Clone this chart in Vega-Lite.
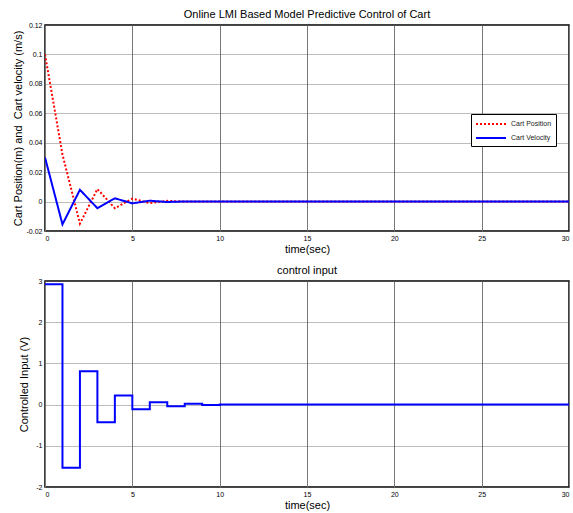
{
  "$schema": "https://vega.github.io/schema/vega-lite/v6.json",
  "background": "white",
  "padding": {"left": 11, "top": 8, "right": 0, "bottom": 0},
  "config": {
    "font": "Liberation Sans",
    "view": {"stroke": "black", "strokeWidth": 1.5},
    "axis": {
      "grid": true,
      "gridColor": "#555",
      "gridDash": [1, 1],
      "gridWidth": 0.8,
      "domain": false,
      "ticks": false,
      "labelFontSize": 7,
      "labelColor": "black",
      "labelPadding": 3,
      "titleFontSize": 11,
      "titleFontWeight": "normal",
      "titleColor": "black",
      "titlePadding": 2
    },
    "axisX": {"gridDash": [], "gridColor": "#777", "gridWidth": 1},
    "title": {"fontSize": 11, "fontWeight": "normal", "offset": 1, "color": "black"},
    "concat": {"spacing": 9}
  },
  "datasets": {
    "cart": [
      {"t": 0, "v": 0.1, "series": "Cart Position"},
      {"t": 1, "v": 0.032, "series": "Cart Position"},
      {"t": 2, "v": -0.015, "series": "Cart Position"},
      {"t": 3, "v": 0.0085, "series": "Cart Position"},
      {"t": 4, "v": -0.0045, "series": "Cart Position"},
      {"t": 5, "v": 0.002, "series": "Cart Position"},
      {"t": 6, "v": -0.001, "series": "Cart Position"},
      {"t": 7, "v": 0.0005, "series": "Cart Position"},
      {"t": 8, "v": 0, "series": "Cart Position"},
      {"t": 30, "v": 0, "series": "Cart Position"},
      {"t": 0, "v": 0.03, "series": "Cart Velocity"},
      {"t": 1, "v": -0.0155, "series": "Cart Velocity"},
      {"t": 2, "v": 0.008, "series": "Cart Velocity"},
      {"t": 3, "v": -0.0045, "series": "Cart Velocity"},
      {"t": 4, "v": 0.0022, "series": "Cart Velocity"},
      {"t": 5, "v": -0.0012, "series": "Cart Velocity"},
      {"t": 6, "v": 0.0006, "series": "Cart Velocity"},
      {"t": 7, "v": -0.0003, "series": "Cart Velocity"},
      {"t": 8, "v": 0.0001, "series": "Cart Velocity"},
      {"t": 9, "v": 0, "series": "Cart Velocity"},
      {"t": 30, "v": 0, "series": "Cart Velocity"}
    ],
    "u": [
      {"t": 0, "u": 2.92},
      {"t": 1, "u": -1.53},
      {"t": 2, "u": 0.81},
      {"t": 3, "u": -0.43},
      {"t": 4, "u": 0.22},
      {"t": 5, "u": -0.11},
      {"t": 6, "u": 0.06},
      {"t": 7, "u": -0.04},
      {"t": 8, "u": 0.02},
      {"t": 9, "u": -0.01},
      {"t": 10, "u": 0},
      {"t": 30, "u": 0}
    ]
  },
  "vconcat": [
    {
      "title": "Online LMI Based Model Predictive Control of Cart",
      "width": 524,
      "height": 206,
      "data": {"name": "cart"},
      "mark": {"type": "line", "strokeWidth": 2, "clip": true},
      "encoding": {
        "x": {"field": "t", "type": "quantitative", "title": "time(sec)",
              "scale": {"domain": [0, 30], "nice": false},
              "axis": {"values": [0, 5, 10, 15, 20, 25, 30]}},
        "y": {"field": "v", "type": "quantitative",
              "title": "Cart Position(m) and\u00a0 Cart velocity (m/s)",
              "scale": {"domain": [-0.02, 0.12], "nice": false, "zero": false},
              "axis": {"values": [-0.02, 0, 0.02, 0.04, 0.06, 0.08, 0.1, 0.12], "labelExpr": "'' + datum.value", "titlePadding": 3}},
        "color": {"field": "series", "type": "nominal",
                  "scale": {"domain": ["Cart Position", "Cart Velocity"], "range": ["red", "blue"]},
                  "legend": {"title": null, "orient": "none", "legendX": 426, "legendY": 89,
                             "strokeColor": "black", "fillColor": "white", "padding": 4,
                             "labelFontSize": 7, "labelColor": "#222", "symbolType": "M-3,0H3", "symbolStrokeWidth": 2, "symbolSize": 100,
                             "symbolOffset": 10, "labelOffset": 14, "rowPadding": 4,
                             "labelExpr": "datum.label + '\u00a0\u00a0\u00a0\u00a0\u00a0\u00a0\u00a0\u00a0\u00a0'"}},
        "strokeDash": {"field": "series", "type": "nominal",
                       "scale": {"domain": ["Cart Position", "Cart Velocity"], "range": [[2, 2], [1, 0]]},
                       "legend": {"title": null, "orient": "none", "legendX": 426, "legendY": 89,
                             "strokeColor": "black", "fillColor": "white", "padding": 4,
                             "labelFontSize": 7, "labelColor": "#222", "symbolType": "M-3,0H3", "symbolStrokeWidth": 2, "symbolSize": 100,
                             "symbolOffset": 10, "labelOffset": 14, "rowPadding": 4,
                             "labelExpr": "datum.label + '\u00a0\u00a0\u00a0\u00a0\u00a0\u00a0\u00a0\u00a0\u00a0'"}}
      }
    },
    {
      "title": "control input",
      "width": 524,
      "height": 206,
      "data": {"name": "u"},
      "mark": {"type": "line", "strokeWidth": 2, "color": "blue", "interpolate": "step-after", "clip": true},
      "encoding": {
        "x": {"field": "t", "type": "quantitative", "title": "time(sec)",
              "scale": {"domain": [0, 30], "nice": false},
              "axis": {"values": [0, 5, 10, 15, 20, 25, 30]}},
        "y": {"field": "u", "type": "quantitative", "title": "Controlled Input (V)",
              "scale": {"domain": [-2, 3], "nice": false},
              "axis": {"values": [-2, -1, 0, 1, 2, 3], "labelExpr": "'' + datum.value", "titlePadding": 6}}
      }
    }
  ]
}
